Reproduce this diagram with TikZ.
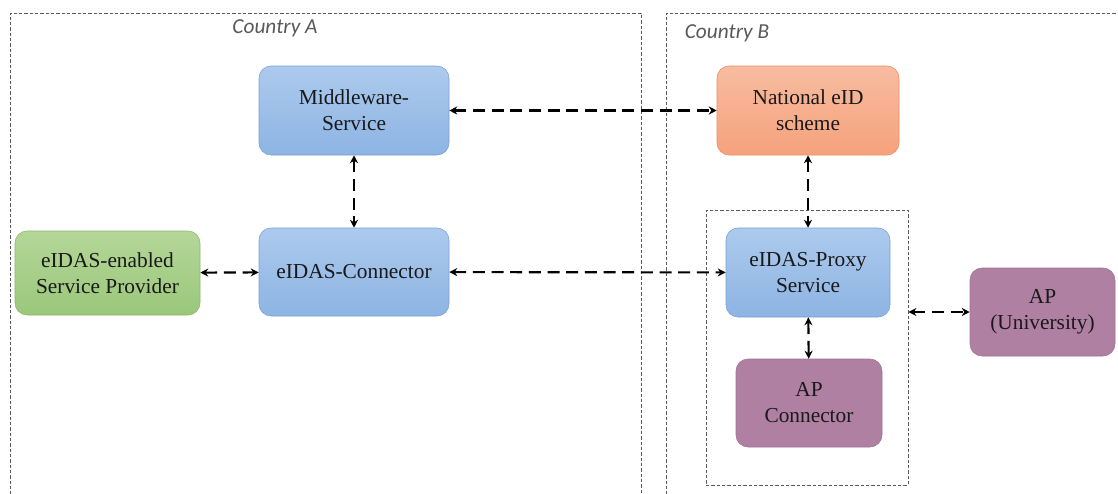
\documentclass[tikz,border=0pt]{standalone}
\usepackage{fontspec}
\setmainfont{Liberation Serif}
\newfontfamily\labelfont{Carlito}
\usetikzlibrary{positioning, arrows.meta, calc}
\definecolor{blueTop}{RGB}{172,202,237}
\definecolor{blueBot}{RGB}{141,180,227}
\definecolor{blueLine}{RGB}{122,160,212}
\definecolor{greenTop}{RGB}{180,215,152}
\definecolor{greenBot}{RGB}{155,199,123}
\definecolor{greenLine}{RGB}{138,184,108}
\definecolor{orangeTop}{RGB}{248,188,160}
\definecolor{orangeBot}{RGB}{245,162,124}
\definecolor{orangeLine}{RGB}{238,140,100}
\definecolor{purpleFill}{RGB}{176,128,163}
\definecolor{purpleLine}{RGB}{160,112,148}
\definecolor{frameGray}{RGB}{90,90,90}
\tikzset{
    x=0.75pt, y=-0.75pt, % one unit is one pixel of the reference
    block/.style={ % Sets the properties for each box
        rectangle,
        rounded corners=9pt,
        align=center,
        font=\fontsize{16}{19.5}\selectfont,
        text=black!90
    },
    blueblock/.style={block, draw=blueLine, top color=blueTop, bottom color=blueBot},
    greenblock/.style={block, draw=greenLine, top color=greenTop, bottom color=greenBot},
    orangeblock/.style={block, draw=orangeLine, top color=orangeTop, bottom color=orangeBot},
    purpleblock/.style={block, draw=purpleLine, fill=purpleFill},
    country/.style={ % Dashed frame of a country
        draw=frameGray,
        line width=0.6pt,
        dash pattern=on 2.5pt off 1.5pt
    },
    countrylabel/.style={font=\labelfont\itshape\fontsize{16}{19}\selectfont, text=black!65},
    every edge/.style={ % Sets the properties for each link
        draw,
        {Stealth[length=6pt,width=6pt]}-{Stealth[length=6pt,width=6pt]},
        line width=1.6pt,
        dash pattern=on 9pt off 5pt
    },
}
\begin{document}
\begin{tikzpicture}
    \useasboundingbox (0,0) rectangle (1118,493);
    % country frames
    \draw[country] (10,500) |- (641,13) -- (641,500);
    \draw[country] (666,500) |- (1125,13);
    \node[countrylabel] (labA) at (275,28) {Country A};
    \node[countrylabel] (labB) at (727,33) {Country B};

    % Country A
    \node[blueblock, minimum width=142.5pt, minimum height=66.75pt]
        (mws)   at (354,110.5)  {Middleware-\\Service};
    \node[blueblock, minimum width=142.5pt, minimum height=66pt]
        (conn)  at (354,272)    {eIDAS-Connector};
    \node[greenblock, minimum width=138.75pt, minimum height=63pt]
        (sp)    at (107.5,273)  {eIDAS-enabled\\Service Provider};

    % Country B
    \node[orangeblock, minimum width=136.5pt, minimum height=66.75pt]
        (neid)  at (808,110.5)  {National eID\\scheme};
    \node[blueblock, minimum width=123pt, minimum height=66.75pt]
        (proxy) at (808,272.5)  {eIDAS-Proxy\\Service};
    \node[purpleblock, minimum width=109.5pt, minimum height=66pt]
        (apconn) at (809,403)   {AP\\Connector};
    \node[purpleblock, minimum width=108.75pt, minimum height=66pt]
        (apuni) at (1042.5,312) {AP\\(University)};
    \node[country, minimum width=151.5pt, minimum height=206.25pt, inner sep=0pt]
        (inner) at (807,347.5)  {};

    \draw   (mws)    edge (neid)
            (mws)    edge (conn)
            (sp)     edge (conn)
            (conn)   edge (proxy)
            (neid)   edge (proxy)
            (proxy)  edge (apconn)
            (apuni.west -| inner.east) edge (apuni.west)
    ;
\end{tikzpicture}
\end{document}
